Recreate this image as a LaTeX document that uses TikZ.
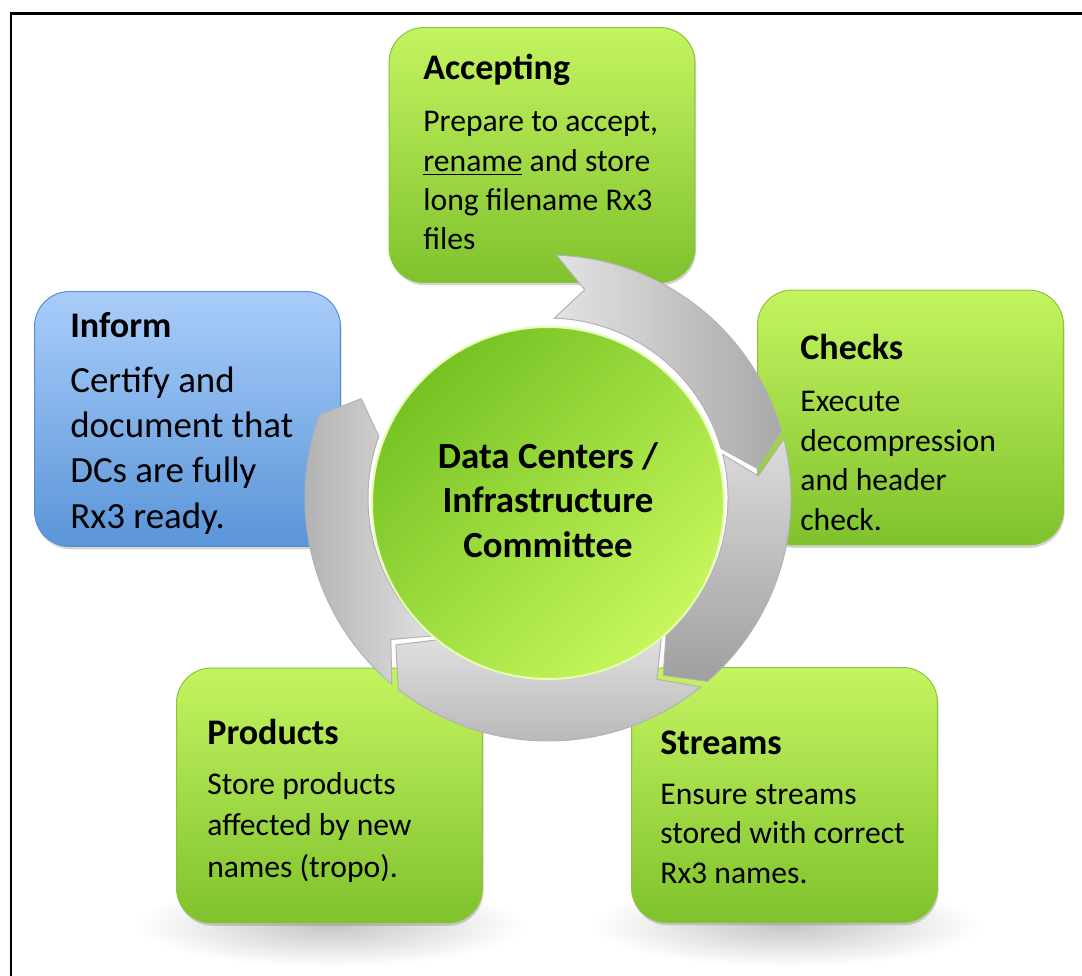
\documentclass[tikz,border=0pt]{standalone}
\usepackage{fontspec}
\setmainfont{Carlito}
\usetikzlibrary{calc,shadows}

\definecolor{grnlight}{HTML}{C4F460}
\definecolor{grndark}{HTML}{7FC22D}
\definecolor{grnedge}{HTML}{8BC43C}
\definecolor{blulight}{HTML}{A9CDFA}
\definecolor{bludark}{HTML}{5A95D8}
\definecolor{bluedge}{HTML}{5B8ED0}
\definecolor{hubdark}{HTML}{76C223}
\definecolor{hublight}{HTML}{C6F75C}

\tikzset{
  stepbox/.style={rounded corners=0.7cm, minimum width=6.12cm, minimum height=5.1cm,
    inner sep=0pt, outer sep=0pt, line width=0.02cm,
    drop shadow={shadow xshift=0.6pt, shadow yshift=-1.6pt, opacity=0.35}},
  greenbox/.style={stepbox, draw=grnedge, top color=grnlight, bottom color=grndark},
  bluebox/.style={stepbox, draw=bluedge, top color=blulight, bottom color=bludark},
  titletext/.style={anchor=base west, inner sep=0pt, font=\fontsize{20.5}{24}\selectfont\bfseries},
  % anchored at the baseline of the last line
  bodytext/.style={anchor=base west, inner sep=0pt, align=left, font=\fontsize{18}{22.4}\selectfont},
}

% one curved piece of the ring: tail, shoulder, tip, shading
\newcommand{\ringarrow}[4]{%
  \pgfmathsetmacro{\notch}{#1+8}
  \shade[#4, draw=gray!60, line width=0.02cm]
    ($(ring)+(#1:243)$) arc[start angle=#1, end angle=#2, radius=243]
    -- ($(ring)+(#3:211.5)$) -- ($(ring)+(#2:180)$)
    arc[start angle=#2, end angle=#1, radius=180]
    -- ($(ring)+(\notch:211.5)$) -- cycle;
}

\begin{document}
\begin{tikzpicture}[x=0.02cm, y=-0.02cm]
  \useasboundingbox (0,0) rectangle (1082,976);
  \draw[line width=0.06cm] (11,976) -- (11,14) -- (1082,14);

  % shadows under the two lower boxes
  \shade[inner color=gray!45, outer color=white] (330,925) ellipse [x radius=195, y radius=42];
  \shade[inner color=gray!45, outer color=white] (787,925) ellipse [x radius=195, y radius=42];

  % boxes
  \node[greenbox] (accept) at (542,155) {};
  \node[bluebox] (inform) at (187.5,419) {};
  \node[greenbox] (checks) at (910.5,417.5) {};
  \node[greenbox] (products) at (329.5,795.5) {};
  \node[greenbox] (streams) at (784.5,795) {};

  % ring of arrows
  \coordinate (ring) at (548,498);
  \ringarrow{130}{200}{208}{left color=gray!65, right color=gray!25}
  \ringarrow{51}{128}{136}{top color=gray!25, bottom color=gray!60}
  \ringarrow{-88}{-16}{-8}{left color=gray!22, right color=gray!68}
  \ringarrow{-14}{49}{57}{top color=gray!28, bottom color=gray!75}

  % hub
  \shade[top color=hubdark, bottom color=hublight, shading angle=45,
    draw=white!55!hublight, line width=0.04cm] (548,503) circle (176);
  \node[align=center, font=\fontsize{21}{25.5}\selectfont\bfseries] (hub) at (548,500)
    {Data Centers /\\Infrastructure\\Committee};

  % texts
  \node[titletext] (acceptT) at (423,80) {Accepting};
  \node[bodytext] (acceptB) at (423,250) {Prepare to accept,\\\underline{rename} and store\\long filename Rx3\\files};

  \node[titletext] (informT) at (70,338) {Inform};
  \node[bodytext, font=\fontsize{21}{25.8}\selectfont] (informB) at (70,528)
    {Certify and\\document that\\DCs are fully\\Rx3 ready.};

  \node[titletext] (checksT) at (800,360) {Checks};
  \node[bodytext] (checksB) at (800,530) {Execute\\decompression\\and header\\check.};

  \node[titletext] (productsT) at (207,744) {Products};
  \node[bodytext, font=\fontsize{18}{23.4}\selectfont] (productsB) at (207,877)
    {Store products\\affected by new\\names (tropo).};

  \node[titletext] (streamsT) at (660,754) {Streams};
  \node[bodytext] (streamsB) at (660,883) {Ensure streams\\stored with correct\\Rx3 names.};
\end{tikzpicture}
\end{document}
